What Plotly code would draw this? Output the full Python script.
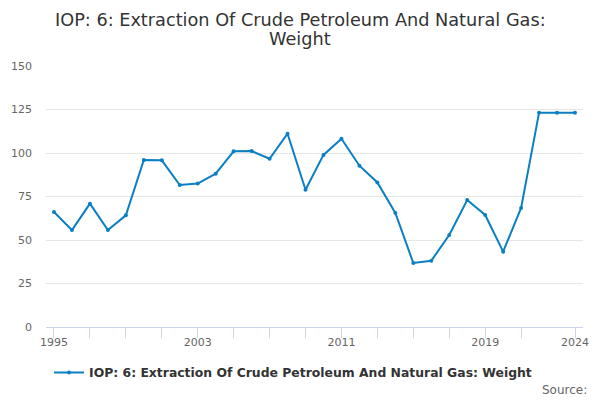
import plotly.graph_objects as go

years = list(range(1995, 2025))
weights = [66.1, 55.7, 70.9, 55.7, 64.2, 96.0, 95.8, 81.6, 82.4, 88.1,
           101.0, 101.1, 96.7, 111.1, 78.9, 98.9, 108.2, 92.7, 83.1, 65.5,
           36.8, 38.1, 52.9, 73.0, 64.4, 43.3, 68.4, 123.2, 123.2, 123.2]
tick_years = list(range(1995, 2022, 2)) + [2024]
labelled = {1995, 2003, 2011, 2019, 2024}
tick_text = [str(y) if y in labelled else "" for y in tick_years]
y_ticks = [0, 25, 50, 75, 100, 125, 150]

title_lines = ["IOP: 6: Extraction Of Crude Petroleum And Natural Gas:", "Weight"]
series_name = "IOP: 6: Extraction Of Crude Petroleum And Natural Gas: Weight"
color = "#0b7fc3"
font_family = "DejaVu Sans"

fig = go.Figure()
fig.add_trace(go.Scatter(
    x=years, y=weights, mode="lines+markers", name=series_name,
    line=dict(color=color, width=2),
    marker=dict(color=color, size=4),
))

annotations = [
    dict(text=title_lines[0], xref="paper", yref="paper", x=0.473, y=1.176,
         xanchor="center", yanchor="middle", showarrow=False,
         font=dict(family=font_family, size=17.7, color="#333333")),
    dict(text=title_lines[1], xref="paper", yref="paper", x=0.473, y=1.103,
         xanchor="center", yanchor="middle", showarrow=False,
         font=dict(family=font_family, size=17.7, color="#333333")),
    dict(text="Source:", xref="paper", yref="paper", x=1.011, y=-0.24,
         xanchor="right", yanchor="middle", showarrow=False,
         font=dict(family=font_family, size=12, color="#666666")),
]

fig.update_layout(
    width=600, height=400,
    margin=dict(l=46, r=17, t=66, b=73, autoexpand=False),
    paper_bgcolor="white", plot_bgcolor="white",
    font=dict(family=font_family, color="#666666", size=11),
    showlegend=True,
    legend=dict(
        orientation="h", x=0.46, xanchor="center", y=-0.176, yanchor="middle",
        font=dict(family=font_family, size=12.4, color="#333333", weight="bold"),
        itemwidth=30,
    ),
    xaxis=dict(
        range=[1994.555, 2024.445], tickvals=tick_years, ticktext=tick_text,
        showgrid=False, zeroline=False,
        showline=True, linecolor="#ccd6eb", linewidth=1,
        ticks="outside", ticklen=10, tickcolor="#ccd6eb",
        tickfont=dict(size=11, color="#666666"),
        ticklabelstandoff=-5,
    ),
    yaxis=dict(
        range=[0, 150], tickvals=y_ticks,
        showgrid=True, gridcolor="#e6e6e6", gridwidth=1,
        zeroline=False, showline=False, ticks="",
        tickfont=dict(size=11, color="#666666"),
        ticklabelstandoff=13,
    ),
    annotations=annotations,
)

fig.write_html("out.html", config={"displayModeBar": False},
               post_script="document.body.style.margin='0';")
